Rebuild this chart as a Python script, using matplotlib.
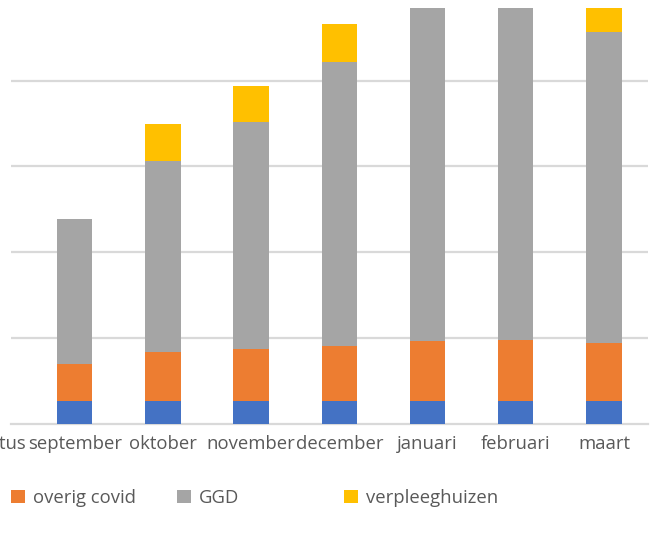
import matplotlib
matplotlib.use("Agg")
import matplotlib.pyplot as plt
import numpy as np

# Data (units = one gridline step; axis labels are cropped off in the reference)
months = ["augustus", "september", "oktober", "november", "december", "januari", "februari", "maart"]
blauw = [np.nan, 0.26, 0.26, 0.26, 0.26, 0.26, 0.26, 0.26]
overig_covid = [np.nan, 0.43, 0.58, 0.61, 0.65, 0.70, 0.72, 0.68]
ggd = [np.nan, 1.70, 2.22, 2.65, 3.31, 4.13, 4.12, 3.63]
verpleeghuizen = [np.nan, 0.0, 0.44, 0.42, 0.44, 0.40, 0.40, 0.40]

colors = {"blauw": "#4472C4", "overig": "#ED7D31", "ggd": "#A5A5A5", "verpl": "#FFC000"}
text_color = "#595959"
grid_color = "#D9D9D9"
FONT = "Open Sans"
FS = 13.3

W, H = 657, 537
fig = plt.figure(figsize=(W / 100, H / 100), dpi=100)
ax = fig.add_axes([11 / W, (H - 423.5) / H, (648 - 11) / W, (423.5 - 8.3) / H])

x = np.arange(len(months))
b = np.array(blauw)
o = np.array(overig_covid)
g = np.array(ggd)
v = np.array(verpleeghuizen)
width = 0.40
h1 = ax.bar(x, b, width, color=colors["blauw"], zorder=3)
h2 = ax.bar(x, o, width, bottom=b, color=colors["overig"], zorder=3)
h3 = ax.bar(x, g, width, bottom=b + o, color=colors["ggd"], zorder=3)
h4 = ax.bar(x, v, width, bottom=b + o + g, color=colors["verpl"], zorder=3)

ax.set_xticks(x)
ax.set_xticklabels(months, fontsize=FS, color=text_color, family=FONT)
ax.tick_params(axis="x", length=0, pad=8)
ax.set_yticks(np.arange(1, 5))
ax.set_yticklabels([])
ax.tick_params(axis="y", length=0)
ax.set_xlim(0.278, 7.5)
ax.set_ylim(0, 4.845)
ax.yaxis.grid(True, color=grid_color, linewidth=1.6, zorder=0)
for s in ["top", "right", "left"]:
    ax.spines[s].set_visible(False)
ax.spines["bottom"].set_color(grid_color)
ax.spines["bottom"].set_linewidth(1.6)

# first category label lies left of the cropped view; draw it unclipped
ax.annotate(months[0], xy=(x[0], 0), xycoords=("data", "axes fraction"),
            xytext=(0, -8), textcoords="offset points", ha="center", va="top",
            fontsize=FS, color=text_color, family=FONT, annotation_clip=False)

# legend entries (blue entry falls outside the cropped view)
entries = [(h2, "overig covid", 11), (h3, "GGD", 177), (h4, "verpleeghuizen", 344)]
for handle, label, px in entries:
    leg = fig.legend([handle], [label], loc="center left",
                     bbox_to_anchor=(px / W, (H - 498) / H),
                     frameon=False, handlelength=0.75, handleheight=0.75,
                     handletextpad=0.45, borderaxespad=0, borderpad=0,
                     prop={"family": FONT, "size": FS})
    for t in leg.get_texts():
        t.set_color(text_color)

fig.savefig("out.png", dpi=100, facecolor="white")
